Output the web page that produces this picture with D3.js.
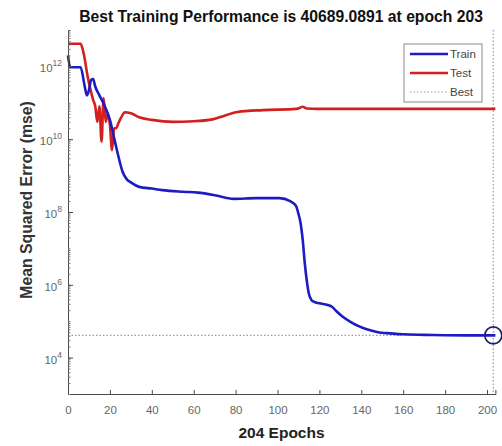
<!DOCTYPE html>
<html>
<head>
<meta charset="utf-8">
<script src="https://cdn.jsdelivr.net/npm/d3@7"></script>
<style>
  html, body { margin: 0; padding: 0; background: #fff; }
  svg { display: block; font-family: "Liberation Sans", Arial, sans-serif; }
</style>
</head>
<body>
<svg id="chart" width="502" height="446"></svg>
<script>
// Training record: mean squared error per epoch
const trainEpochs = [0, 1, 6, 8, 9, 10, 11, 12, 13, 15, 17, 20, 22, 24, 26, 28, 30, 34, 40, 45, 55, 62, 70, 79, 90, 101, 106, 108, 109, 110, 111, 112, 113, 114, 115, 116, 117, 120, 124, 126, 128, 131, 135, 139, 143, 148, 152, 160, 170, 180, 190, 203, 204];
const trainMse = [2.0e12, 9.5e11, 9.5e11, 2.8e11, 1.6e11, 2.2e11, 4.2e11, 4.5e11, 2.8e11, 1.6e11, 9.5e10, 3.4e10, 1.1e10, 3.5e9, 1.3e9, 8.0e8, 6.5e8, 4.9e8, 4.4e8, 4.0e8, 3.6e8, 3.4e8, 2.9e8, 2.3e8, 2.4e8, 2.4e8, 2.0e8, 1.66e8, 1.4e8, 8.9e7, 5.0e7, 1.8e7, 4.0e6, 1.26e6, 5.6e5, 4.0e5, 3.5e5, 3.1e5, 2.8e5, 2.5e5, 1.9e5, 1.35e5, 9.5e4, 7.2e4, 5.9e4, 5.0e4, 4.7e4, 4.37e4, 4.22e4, 4.12e4, 4.09e4, 40689.0891, 40688.5];

const testEpochs = [0, 6, 7, 8, 9, 10, 11, 12, 13, 14, 15, 16, 17, 18, 19, 20, 21, 22, 23, 24, 25, 26, 27, 30, 34, 40, 50, 60, 69, 75, 81, 93, 109, 111, 112, 114, 119, 204];
const testMse = [4.2e12, 4.2e12, 3.0e12, 1.6e12, 7.0e11, 3.5e11, 2.0e11, 1.2e11, 8.0e10, 3.0e10, 8.0e10, 8.5e9, 1.35e11, 3.0e10, 5.0e10, 2.5e10, 5.0e9, 2.0e10, 2.0e10, 2.7e10, 3.6e10, 4.6e10, 5.5e10, 5.2e10, 4.0e10, 3.4e10, 3.0e10, 3.1e10, 3.5e10, 4.5e10, 5.6e10, 6.3e10, 6.8e10, 7.4e10, 7.8e10, 7.0e10, 6.8e10, 6.8e10];

const bestEpoch = 203;
const bestPerf = 40689.0891;
const numEpochs = 204;

const xTicks = [0, 20, 40, 60, 80, 100, 120, 140, 160, 180, 200];
const yTickExponents = [4, 6, 8, 10, 12];
const legendLabels = ["Train", "Test", "Best"];

const svg = d3.select("#chart");
const plotLeft = 68, plotRight = 495.4, plotTop = 30, plotBottom = 394;

const x = d3.scaleLinear().domain([0, numEpochs]).range([plotLeft, plotRight]);
const y = d3.scaleLog().domain([1e3, 1e13]).range([plotBottom, plotTop]);

const axisColor = "#4a4a4a";
const labelColor = "#666";
const trainColor = "#1c1cc4";
const testColor = "#d41f1f";
const bestColor = "#8f9cc0";

// best-performance guide lines
svg.append("line")
  .attr("x1", x(0)).attr("x2", x(bestEpoch))
  .attr("y1", y(bestPerf)).attr("y2", y(bestPerf))
  .attr("stroke", bestColor).attr("stroke-width", 1.2)
  .attr("stroke-dasharray", "1.5,2");
svg.append("line")
  .attr("x1", x(bestEpoch)).attr("x2", x(bestEpoch))
  .attr("y1", y(1e13)).attr("y2", y(1e3))
  .attr("stroke", bestColor).attr("stroke-width", 1.2)
  .attr("stroke-dasharray", "1.5,2");

// series
const line = d3.line().curve(d3.curveMonotoneX);
const trainPts = trainEpochs.map((e, i) => [x(e), y(trainMse[i])]);
const testPts = testEpochs.map((e, i) => [x(e), y(testMse[i])]);

svg.append("path").attr("d", line(testPts))
  .attr("fill", "none").attr("stroke", testColor).attr("stroke-width", 2.6)
  .attr("stroke-linejoin", "round");
svg.append("path").attr("d", line(trainPts))
  .attr("fill", "none").attr("stroke", trainColor).attr("stroke-width", 2.6)
  .attr("stroke-linejoin", "round");

// best marker
svg.append("circle")
  .attr("cx", x(bestEpoch)).attr("cy", y(bestPerf)).attr("r", 8.5)
  .attr("fill", "none").attr("stroke", "#1d1d66").attr("stroke-width", 1.6);

// x axis (ticks point inward)
const xAxis = d3.axisBottom(x).tickValues(xTicks).tickSize(-4).tickPadding(12).tickFormat(d3.format("d"));
const gx = svg.append("g").attr("transform", `translate(0,${plotBottom})`).call(xAxis);
gx.select(".domain").attr("stroke", axisColor);
gx.selectAll(".tick line").attr("stroke", axisColor);
gx.selectAll(".tick text").attr("fill", labelColor).attr("font-size", 11.5)
  .attr("font-family", "Liberation Sans, Arial, sans-serif");

// y axis: minor ticks at every k*10^n, major ticks with labels
const minorTicks = [];
for (let n = 3; n < 13; n++) for (let k = 1; k <= 9; k++) minorTicks.push(k * Math.pow(10, n));
const yMinor = d3.axisLeft(y).tickValues(minorTicks).tickSize(-2.5).tickFormat("");
const gyMinor = svg.append("g").attr("transform", `translate(${plotLeft},0)`).call(yMinor);
gyMinor.select(".domain").attr("stroke", axisColor);
gyMinor.selectAll(".tick line").attr("stroke", "#777");

const yMajor = d3.axisLeft(y).tickValues(yTickExponents.map(p => Math.pow(10, p))).tickSize(-5).tickFormat("");
const gy = svg.append("g").attr("transform", `translate(${plotLeft},0)`).call(yMajor);
gy.select(".domain").remove();
gy.selectAll(".tick line").attr("stroke", axisColor);

const yLabels = svg.append("g");
yTickExponents.forEach(p => {
  const t = yLabels.append("text")
    .attr("x", 62).attr("y", y(Math.pow(10, p)) + 6)
    .attr("text-anchor", "end").attr("fill", labelColor).attr("font-size", 11.5);
  t.append("tspan").text("10");
  t.append("tspan").attr("dy", -6).attr("font-size", 8.5).text(String(p));
});

// title and axis labels
svg.append("text")
  .attr("x", 281).attr("y", 22).attr("text-anchor", "middle")
  .attr("font-size", 15.7).attr("font-weight", "bold").attr("fill", "#111")
  .text(`Best Training Performance is ${bestPerf.toFixed(4)} at epoch ${bestEpoch}`);

svg.append("text")
  .attr("x", 281.5).attr("y", 438).attr("text-anchor", "middle")
  .attr("font-size", 15.5).attr("font-weight", "bold").attr("fill", "#222")
  .text(`${numEpochs} Epochs`);

svg.append("text")
  .attr("transform", "translate(32,200) rotate(-90)")
  .attr("text-anchor", "middle")
  .attr("font-size", 15.8).attr("font-weight", "bold").attr("fill", "#333")
  .text("Mean Squared Error  (mse)");

// legend
const lg = svg.append("g").attr("transform", "translate(404,44)");
lg.append("rect").attr("width", 78).attr("height", 58)
  .attr("fill", "#fff").attr("stroke", "#8a8a8a").attr("stroke-width", 1);
const legendStyles = [
  { color: trainColor, width: 2.6, dash: null },
  { color: testColor, width: 2.6, dash: null },
  { color: bestColor, width: 1.2, dash: "1.5,2" }
];
legendLabels.forEach((name, i) => {
  const cy = 10 + i * 19;
  const st = legendStyles[i];
  const l = lg.append("line").attr("x1", 6).attr("x2", 44).attr("y1", cy).attr("y2", cy)
    .attr("stroke", st.color).attr("stroke-width", st.width);
  if (st.dash) l.attr("stroke-dasharray", st.dash);
  lg.append("text").attr("x", 46).attr("y", cy + 4)
    .attr("font-size", 11.5).attr("fill", "#444").text(name);
});
</script>
</body>
</html>
